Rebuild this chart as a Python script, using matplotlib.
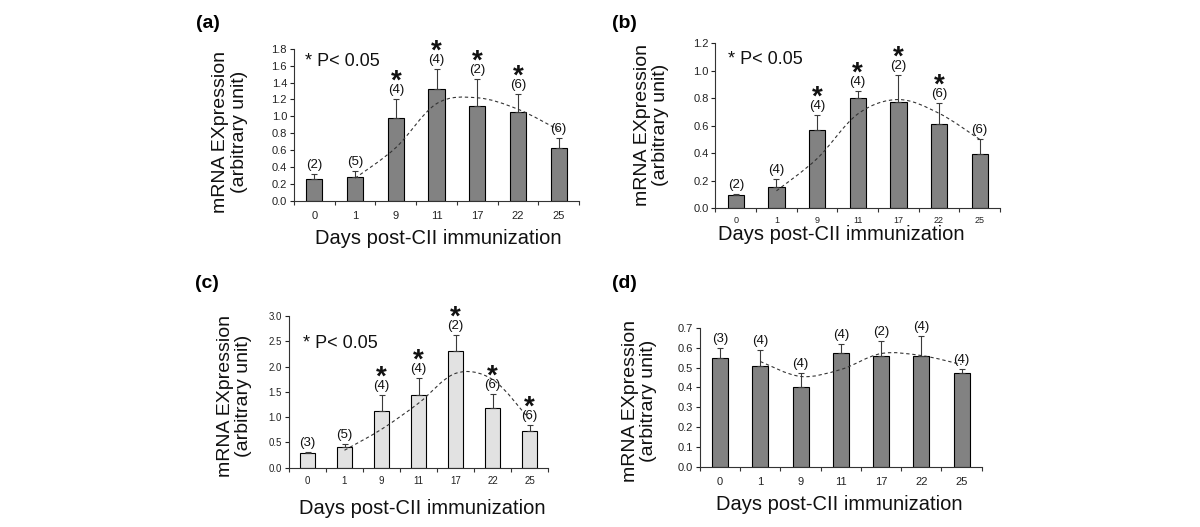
import matplotlib
matplotlib.use("Agg")
import matplotlib.pyplot as plt
from matplotlib.path import Path
from matplotlib.patches import PathPatch
from matplotlib.ticker import FixedLocator, FormatStrFormatter

plt.rcParams['font.family'] = ['Liberation Sans', 'DejaVu Sans']

days = ["0", "1", "9", "11", "17", "22", "25"]

# panel (a)
a_vals = [0.26, 0.28, 0.98, 1.32, 1.12, 1.05, 0.63]
a_tops = [0.32, 0.36, 1.20, 1.56, 1.44, 1.26, 0.75]
a_n = [2, 5, 4, 4, 2, 6, 6]
a_sig = [False, False, True, True, True, True, False]
a_trend = [0.27, 0.63, 1.15, 1.22, 1.085, 0.84]

# panel (b)
b_vals = [0.095, 0.155, 0.57, 0.80, 0.775, 0.61, 0.39]
b_tops = [0.10, 0.21, 0.68, 0.855, 0.97, 0.765, 0.50]
b_n = [2, 4, 4, 4, 2, 6, 6]
b_sig = [False, False, True, True, True, True, False]
b_trend = [0.125, 0.36, 0.685, 0.79, 0.69, 0.50]

# panel (c)
c_vals = [0.29, 0.40, 1.12, 1.43, 2.30, 1.19, 0.72]
c_tops = [0.31, 0.46, 1.43, 1.77, 2.62, 1.46, 0.84]
c_n = [3, 5, 4, 4, 2, 6, 6]
c_sig = [False, False, True, True, True, True, True]
c_trend = [0.345, 0.76, 1.275, 1.865, 1.745, 0.955]

# panel (d)
d_vals = [0.55, 0.51, 0.40, 0.575, 0.56, 0.56, 0.47]
d_tops = [0.60, 0.59, 0.47, 0.62, 0.635, 0.66, 0.49]
d_n = [3, 4, 4, 4, 2, 4, 4]
d_sig = [False] * 7
d_trend = [0.53, 0.455, 0.49, 0.57, 0.56, 0.515]

W, H = 1200, 527
fig = plt.figure(figsize=(12, 5.27), dpi=100)


def axes_px(left, right, top, bottom):
    return fig.add_axes([left / W, 1 - bottom / H, (right - left) / W, (bottom - top) / H])


def smooth_path(xs, ys):
    pts = list(zip(xs, ys))
    n = len(pts)
    verts = [pts[0]]
    codes = [Path.MOVETO]
    for i in range(n - 1):
        p0 = pts[max(i - 1, 0)]
        p1 = pts[i]
        p2 = pts[i + 1]
        p3 = pts[min(i + 2, n - 1)]
        c1 = (p1[0] + (p2[0] - p0[0]) / 6, p1[1] + (p2[1] - p0[1]) / 6)
        c2 = (p2[0] - (p3[0] - p1[0]) / 6, p2[1] - (p3[1] - p1[1]) / 6)
        verts += [c1, c2, p2]
        codes += [Path.CURVE4] * 3
    return Path(verts, codes)


def panel(box, vals, tops, ns, sig, trend, ymax, ystep, color, letter, letter_px,
          ylab_xy, xlab_px, tick_fs=8, xtick_fs=8, xpad=7.5, pval_px=None):
    ax = axes_px(*box)
    x = list(range(len(days)))
    lower = [0] * len(vals)
    upper = [t - v for t, v in zip(tops, vals)]
    ax.bar(x, vals, width=0.4, color=color, edgecolor='black', linewidth=0.8, zorder=2)
    ax.errorbar(x, vals, yerr=[lower, upper], fmt='none', ecolor='#3a3a3a',
                elinewidth=0.8, capsize=2.5, capthick=0.8, zorder=3)
    patch = PathPatch(smooth_path(x[1:], trend), fill=False, edgecolor='#333333',
                      linewidth=0.8, linestyle=(0, (3, 2.5)), zorder=4)
    ax.add_patch(patch)
    for i in x:
        ax.annotate(f"({ns[i]})", xy=(i, tops[i]), xytext=(0, 6.5), textcoords='offset points',
                    ha='center', va='center', fontsize=9.5, color='#111111', zorder=5)
        if sig[i]:
            ax.annotate("*", xy=(i, tops[i]), xytext=(0, 12.5), textcoords='offset points',
                        ha='center', va='center', fontsize=20, fontweight='bold',
                        color='#111111', zorder=5)
    ax.set_xlim(-0.5, len(days) - 0.5)
    ax.set_ylim(0, ymax)
    nt = int(round(ymax / ystep))
    ax.yaxis.set_major_locator(FixedLocator([k * ystep for k in range(nt + 1)]))
    ax.yaxis.set_major_formatter(FormatStrFormatter('%.1f'))
    ax.set_xticks(x)
    ax.set_xticklabels(days)
    ax.set_xticks([k + 0.5 for k in range(-1, len(days))], minor=True)
    ax.tick_params(axis='x', which='major', length=0, labelsize=xtick_fs, pad=xpad,
                   colors='#222222')
    ax.tick_params(axis='x', which='minor', length=3, width=0.8, direction='out',
                   colors='#333333')
    ax.tick_params(axis='y', length=3, width=0.8, labelsize=tick_fs, pad=2,
                   colors='#222222')
    for s in ('top', 'right'):
        ax.spines[s].set_visible(False)
    for s in ('left', 'bottom'):
        ax.spines[s].set_linewidth(0.8)
        ax.spines[s].set_color('#333333')
    ax.text(ylab_xy[0], ylab_xy[1], "mRNA EXpression\n(arbitrary unit)", transform=ax.transAxes,
            rotation=90, ha='center', va='center', fontsize=14, linespacing=1.1,
            color='#111111')
    fig.text(xlab_px[0] / W, 1 - xlab_px[1] / H, "Days post-CII immunization",
             ha='center', va='center', fontsize=14.5, color='#111111')
    fig.text(letter_px[0] / W, 1 - letter_px[1] / H, letter, ha='left', va='center',
             fontsize=14, fontweight='bold', color='black')
    if pval_px is not None:
        fig.text(pval_px[0] / W, 1 - pval_px[1] / H, "* P< 0.05", ha='left', va='center',
                 fontsize=13, color='#111111')
    return ax


panel((294, 579, 48.7, 201), a_vals, a_tops, a_n, a_sig, a_trend, 1.8, 0.2, '#828282',
      "(a)", (196, 24), (-0.225, 0.453), (438, 238), xpad=7.5, pval_px=(305, 62))
panel((715.5, 1000, 43.3, 208), b_vals, b_tops, b_n, b_sig, b_trend, 1.2, 0.2, '#828282',
      "(b)", (612, 23), (-0.225, 0.504), (841, 234), xtick_fs=6.5, xpad=5.5, pval_px=(728, 60))
panel((289, 548, 316, 467.7), c_vals, c_tops, c_n, c_sig, c_trend, 3.0, 0.5, '#e2e2e2',
      "(c)", (195, 283), (-0.21, 0.473), (422, 508), tick_fs=7, xtick_fs=7, xpad=6,
      pval_px=(303, 344))
panel((700, 981.7, 327.7, 467), d_vals, d_tops, d_n, d_sig, d_trend, 0.7, 0.1, '#828282',
      "(d)", (612, 284), (-0.215, 0.474), (839, 505), xpad=7)

fig.savefig("out.png", dpi=100)
